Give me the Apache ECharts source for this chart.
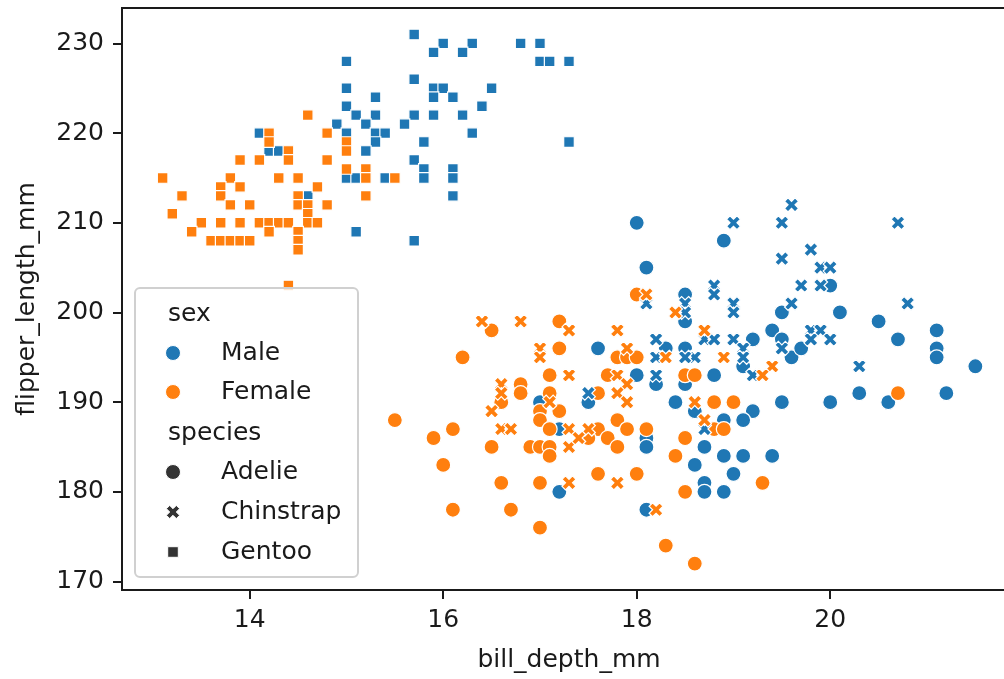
<!DOCTYPE html>
<html><head><meta charset="utf-8">
<script src="https://cdn.jsdelivr.net/npm/echarts@6/dist/echarts.min.js"></script>
<style>html,body{margin:0;padding:0;background:#fff}#chart{width:1004px;height:679px}</style>
</head><body><div id="chart"></div>
<script>
const xTicks = [14, 16, 18, 20];
const yTicks = [170, 180, 190, 200, 210, 220, 230];
const xName = 'bill_depth_mm';
const yName = 'flipper_length_mm';
const sexLabels = ['Male', 'Female'];
const speciesLabels = ['Adelie', 'Chinstrap', 'Gentoo'];

// [bill_depth_mm, flipper_length_mm]
const adelieMale = [[18.0,210],[18.9,208],[18.1,205],[18.5,202],[18.5,199],[19.5,200],[19.4,198],[19.5,197],[19.2,197],[18.3,196],[18.5,196],[19.6,195],[17.6,196],[17.0,190],[17.5,190],[17.2,187],[17.2,180],[18.0,193],[18.8,193],[19.1,194],[18.5,192],[18.2,192],[18.4,190],[19.5,190],[18.6,189],[19.2,189],[19.1,188],[18.9,188],[18.1,186],[18.1,185],[18.7,185],[18.6,183],[18.9,184],[19.1,184],[19.4,184],[19.0,182],[18.7,181],[18.7,180],[18.9,180],[18.1,178],[20.0,203],[20.1,200],[20.5,199],[21.1,198],[21.1,196],[21.1,195],[20.7,197],[19.7,196],[21.5,194],[20.3,191],[20.6,190],[20.0,190],[21.2,191]];
const adelieFemale = [[17.2,199],[16.5,198],[17.2,196],[16.2,195],[17.1,193],[17.7,193],[16.8,192],[16.8,191],[17.1,191],[17.6,191],[16.6,190],[17.2,189],[17.0,189],[17.0,188],[15.5,188],[17.1,187],[16.1,187],[17.6,187],[15.9,186],[16.5,185],[16.9,185],[17.0,185],[17.1,185],[17.1,184],[17.7,186],[17.5,186],[16.0,183],[16.6,181],[17.0,181],[17.6,182],[16.1,178],[16.7,178],[17.0,176],[18.0,202],[17.8,195],[17.9,195],[18.0,195],[18.5,193],[18.6,193],[18.8,190],[19.0,190],[17.8,188],[18.8,187],[18.9,187],[17.9,187],[18.1,187],[17.8,185],[18.5,186],[18.4,184],[19.3,181],[18.0,182],[18.5,180],[18.3,174],[18.6,172],[20.7,191]];
const chinstrapMale = [[19.6,212],[19.5,210],[19.0,210],[20.7,210],[19.8,207],[19.5,206],[19.9,205],[20.0,205],[19.7,203],[19.9,203],[18.8,203],[18.8,202],[19.6,201],[20.8,201],[18.5,201],[18.5,200],[19.0,201],[19.0,200],[18.1,201],[19.8,198],[19.9,198],[19.8,197],[20.0,197],[18.2,197],[18.7,197],[18.8,197],[19.0,197],[19.1,196],[19.5,196],[20.3,194],[18.2,195],[18.6,195],[18.5,195],[19.1,195],[19.2,193],[18.2,193],[17.5,191],[18.7,187]];
const chinstrapFemale = [[16.4,199],[16.8,199],[17.3,198],[17.0,196],[17.0,195],[17.3,193],[16.6,192],[16.6,191],[16.5,189],[16.6,187],[16.7,187],[17.1,190],[17.3,187],[17.3,185],[17.5,187],[17.4,186],[17.3,181],[18.1,202],[18.4,200],[17.8,198],[18.7,198],[17.9,196],[18.3,195],[18.9,195],[19.4,194],[19.3,193],[17.8,193],[17.9,192],[17.8,191],[17.9,190],[18.6,190],[18.7,188],[17.8,181],[18.2,178]];
const gentooMale = [[15.7,231],[16.0,230],[16.3,230],[16.8,230],[17.0,230],[15.9,229],[16.2,229],[15.0,228],[17.0,228],[17.1,228],[17.3,228],[15.7,226],[15.0,225],[15.9,225],[16.0,225],[16.5,225],[15.9,224],[16.1,224],[15.3,224],[15.0,223],[16.4,223],[15.1,222],[15.3,222],[15.7,222],[15.9,222],[16.2,222],[14.9,221],[15.2,221],[15.6,221],[15.0,220],[15.3,220],[15.4,220],[16.3,220],[14.1,220],[17.3,219],[15.3,219],[15.8,219],[15.2,218],[14.2,218],[14.3,218],[15.7,217],[15.8,216],[15.8,215],[16.1,216],[16.1,215],[16.1,213],[15.0,215],[15.1,215],[15.4,215],[15.1,209],[15.7,208],[14.6,213]];
const gentooFemale = [[14.6,222],[14.2,220],[14.8,220],[14.2,219],[14.4,218],[14.4,217],[13.9,217],[14.1,217],[14.8,217],[15.0,219],[15.0,218],[15.0,216],[15.2,216],[15.2,215],[15.5,215],[15.2,213],[13.1,215],[13.8,215],[14.3,215],[14.5,215],[13.7,214],[13.9,214],[14.7,214],[13.3,213],[13.7,213],[14.5,213],[14.5,212],[14.6,212],[14.6,211],[13.8,212],[14.0,212],[14.8,212],[13.2,211],[13.5,210],[13.7,210],[13.9,210],[14.1,210],[14.2,210],[14.3,210],[14.4,210],[14.6,210],[14.7,210],[13.4,209],[14.2,209],[14.5,209],[14.5,208],[14.5,207],[13.6,208],[13.7,208],[13.8,208],[13.9,208],[14.0,208],[14.4,203]];

const BLUE = '#1f77b4', ORANGE = '#ff7f0e', GRAY = '#333333';
const XPATH = 'path://M6,0L8,2L6,4L8,6L6,8L4,6L2,8L0,6L2,4L0,2L2,0L4,2Z';
const FONT = 'DejaVu Sans';

function ser(name, data, color, symbol, size) {
  return {
    name, type: 'scatter', data, symbol, symbolSize: size,
    itemStyle: { color, borderColor: '#ffffff', borderWidth: 1.2, opacity: 1 },
    emphasis: { disabled: true }, animation: false
  };
}

const series = [
  ser('Adelie Male', adelieMale, BLUE, 'circle', 15),
  ser('Adelie Female', adelieFemale, ORANGE, 'circle', 15),
  ser('Chinstrap Male', chinstrapMale, BLUE, XPATH, 14),
  ser('Chinstrap Female', chinstrapFemale, ORANGE, XPATH, 14),
  ser('Gentoo Male', gentooMale, BLUE, 'rect', 10.6),
  ser('Gentoo Female', gentooFemale, ORANGE, 'rect', 10.6)
];

const lx = 135, ly = 288;
const textStyle = (t, x, y) => ({ type: 'text', x, y, style: { text: t, fill: '#1a1a1a', font: '25px "' + FONT + '"', textVerticalAlign: 'middle' } });
const graphic = [
  { type: 'rect', shape: { x: lx, y: ly, width: 223, height: 289, r: 5 }, style: { fill: 'rgba(255,255,255,0.8)', stroke: '#d0d0d0', lineWidth: 2 }, z: 100 },
  textStyle('sex', 168, 314),
  { type: 'circle', shape: { cx: 173, cy: 353, r: 7.5 }, style: { fill: BLUE, stroke: '#fff', lineWidth: 1 }, z: 101 },
  textStyle(sexLabels[0], 221, 353),
  { type: 'circle', shape: { cx: 173, cy: 392, r: 7.5 }, style: { fill: ORANGE, stroke: '#fff', lineWidth: 1 }, z: 101 },
  textStyle(sexLabels[1], 221, 392),
  textStyle('species', 168, 433),
  { type: 'circle', shape: { cx: 173, cy: 472, r: 7.5 }, style: { fill: GRAY, stroke: '#fff', lineWidth: 1 }, z: 101 },
  textStyle(speciesLabels[0], 221, 472),
  { type: 'polygon', shape: { points: [[2,-4],[4,-2],[2,0],[4,2],[2,4],[0,2],[-2,4],[-4,2],[-2,0],[-4,-2],[-2,-4],[0,-2]].map(p => [173 + p[0]*1.65, 512 + p[1]*1.65]) }, style: { fill: GRAY, stroke: '#fff', lineWidth: 1 }, z: 101 },
  textStyle(speciesLabels[1], 221, 512),
  { type: 'rect', shape: { x: 173 - 5.3, y: 552 - 5.3, width: 10.6, height: 10.6 }, style: { fill: GRAY, stroke: '#fff', lineWidth: 1 }, z: 101 },
  textStyle(speciesLabels[2], 221, 552)
].map(g => Object.assign({ z: 101 }, g));

const axisCommon = {
  type: 'value',
  axisLine: { show: true, lineStyle: { color: '#1a1a1a', width: 2 } },
  axisTick: { show: true, length: 9, lineStyle: { color: '#1a1a1a', width: 2 } },
  splitLine: { show: false },
  nameLocation: 'middle',
  nameTextStyle: { fontFamily: FONT, fontSize: 25, color: '#1a1a1a' }
};

const option = {
  backgroundColor: '#fff',
  animation: false,
  grid: { left: 122, top: 8, width: 894, height: 582, outerBoundsMode: 'none', containLabel: false, show: true, borderColor: '#1a1a1a', borderWidth: 2, backgroundColor: 'transparent' },
  xAxis: Object.assign({}, axisCommon, {
    min: 12.68, max: 21.92, name: xName, nameGap: 58,
    axisTick: Object.assign({}, axisCommon.axisTick, { customValues: xTicks }),
    axisLabel: { customValues: xTicks, margin: 18, fontFamily: FONT, fontSize: 25, color: '#1a1a1a' }
  }),
  yAxis: Object.assign({}, axisCommon, {
    min: 169.05, max: 233.95, name: yName, nameGap: 82,
    axisTick: Object.assign({}, axisCommon.axisTick, { customValues: yTicks }),
    axisLabel: { customValues: yTicks, margin: 18, fontFamily: FONT, fontSize: 25, color: '#1a1a1a' }
  }),
  series,
  graphic
};

const chart = echarts.init(document.getElementById('chart'), null, { renderer: 'canvas' });
chart.setOption(option);
</script>
</body></html>
